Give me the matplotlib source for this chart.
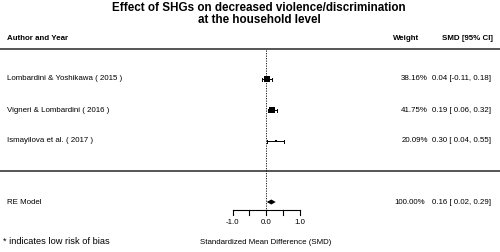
import matplotlib
matplotlib.use("Agg")
import matplotlib.pyplot as plt
import numpy as np

plt.rcParams['font.family'] = ['Liberation Sans', 'DejaVu Sans']

studies = ["Lombardini & Yoshikawa ( 2015 )", "Vigneri & Lombardini ( 2016 )", "Ismayilova et al. ( 2017 )"]
smd = [0.04, 0.19, 0.30]
ci_low = [-0.11, 0.06, 0.04]
ci_high = [0.18, 0.32, 0.55]
weights = [38.16, 41.75, 20.09]

re_label = "RE Model"
re_smd = 0.16
re_low = 0.02
re_high = 0.29

xticks = [-1.0, -0.5, 0.0, 0.5, 1.0]
xticklabels = ["-1.0", "", "0.0", "", "1.0"]

W, H = 500, 252
x0_px = 266      # pixel position of SMD = 0
unit_px = 33.5   # pixels per SMD unit
fs = 5.7


def px(x):
    # convert a horizontal pixel position to data coordinates
    return (x - x0_px) / unit_px


def ci_text(est, lo, hi):
    # metafor style: pad non-negative numbers with a space
    return f"{est:.2f} [{lo: .2f}, {hi:.2f}]"


fig = plt.figure(figsize=(5.0, 2.52), dpi=100)
ax = fig.add_axes([0, 0, 1, 1])
ax.set_xlim(px(0), px(W))
ax.set_ylim(H, 0)
ax.axis('off')

# title and header
ax.text(px(259), 8, "Effect of SHGs on decreased violence/discrimination",
        ha='center', va='center', fontsize=8.4, fontweight='bold')
ax.text(px(259), 20, "at the household level",
        ha='center', va='center', fontsize=8.4, fontweight='bold')
ax.text(px(7), 38, "Author and Year", ha='left', va='center', fontsize=fs, fontweight='bold')
ax.text(px(419), 38, "Weight", ha='right', va='center', fontsize=fs, fontweight='bold')
ax.text(px(493), 38, "SMD [95% CI]", ha='right', va='center', fontsize=fs, fontweight='bold')

ax.plot([px(0), px(W)], [49, 49], color='#555555', lw=1.4)
ax.plot([px(0), px(W)], [171, 171], color='#555555', lw=1.4)

# reference line
ax.plot([0, 0], [50, 210], color='black', lw=0.6, ls=(0, (1.5, 1.5)))

# studies
rows_y = 79 + 31 * np.arange(len(studies))
w = np.array(weights)
psize = 0.5 + (w - w.min()) / (w.max() - w.min())
for i, name in enumerate(studies):
    y = rows_y[i]
    ax.plot([ci_low[i], ci_high[i]], [y, y], color='black', lw=0.7)
    ax.plot([ci_low[i], ci_low[i]], [y - 1.5, y + 1.5], color='black', lw=0.7)
    ax.plot([ci_high[i], ci_high[i]], [y - 1.5, y + 1.5], color='black', lw=0.7)
    ax.plot(smd[i], y, marker='s', color='black', markersize=3.2 * psize[i], mec='black', mew=0)
    ax.text(px(7), y, name, ha='left', va='center', fontsize=fs)
    ax.text(px(428), y, f"{weights[i]:.2f}%", ha='right', va='center', fontsize=fs)
    ax.text(px(491), y, ci_text(smd[i], ci_low[i], ci_high[i]), ha='right', va='center', fontsize=fs)

# RE model
re_y = 202
ax.fill([re_low, re_smd, re_high, re_smd], [re_y, re_y - 2.5, re_y, re_y + 2.5], color='black', lw=0)
ax.text(px(7), re_y, re_label, ha='left', va='center', fontsize=fs)
ax.text(px(425), re_y, f"{sum(weights):.2f}%", ha='right', va='center', fontsize=fs)
ax.text(px(491), re_y, ci_text(re_smd, re_low, re_high), ha='right', va='center', fontsize=fs)

# x axis
axis_y = 210
ax.plot([xticks[0], xticks[-1]], [axis_y, axis_y], color='black', lw=0.8)
for t, lab in zip(xticks, xticklabels):
    ax.plot([t, t], [axis_y, axis_y + 5], color='black', lw=0.8)
    if lab:
        ax.text(t, 223, lab, ha='center', va='center', fontsize=fs)
ax.text(0, 242, "Standardized Mean Difference (SMD)", ha='center', va='center', fontsize=fs)

ax.text(px(3), 241, "* indicates low risk of bias", ha='left', va='center', fontsize=6.7)

fig.savefig("out.png", dpi=100)
